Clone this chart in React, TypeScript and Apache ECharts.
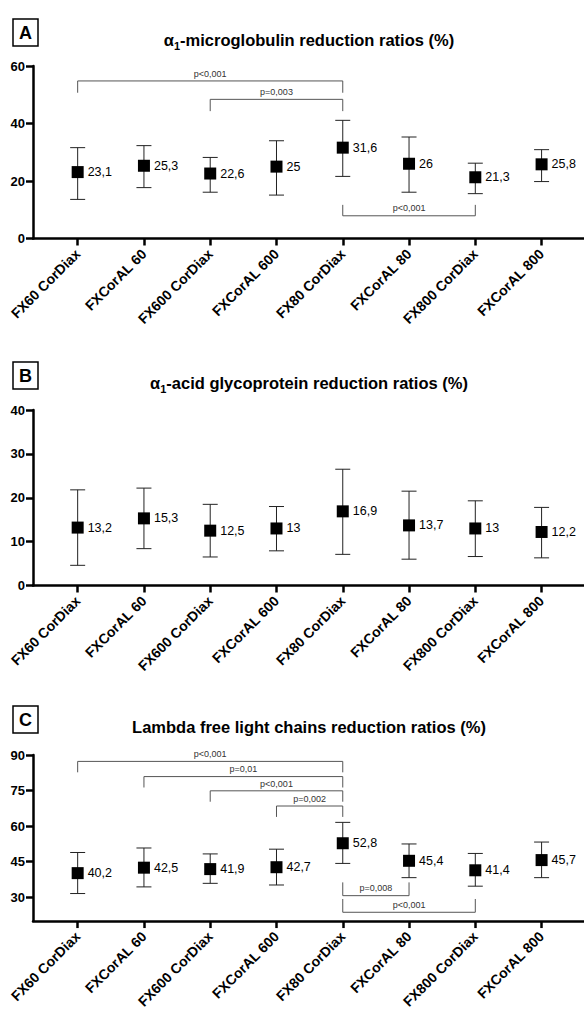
import React, { useEffect, useRef } from "react";
import * as echarts from "echarts";

const categories = [
  "FX60 CorDiax",
  "FXCorAL 60",
  "FX600 CorDiax",
  "FXCorAL 600",
  "FX80 CorDiax",
  "FXCorAL 80",
  "FX800 CorDiax",
  "FXCorAL 800",
];

// Panel A: alpha1-microglobulin
const meanA = [23.1, 25.3, 22.6, 25, 31.6, 26, 21.3, 25.8];
const upperA = [31.6, 32.3, 28.2, 34.0, 41.1, 35.3, 26.2, 30.9];
const lowerA = [13.6, 17.7, 16.1, 15.1, 21.6, 16.1, 15.6, 19.8];
const yTicksA = [0, 20, 40, 60];
// brackets: [from, to, lineValue, legEndValue]
const bracketsA = [
  [0, 4, 54.8, 50.7],
  [2, 4, 48.4, 44.3],
  [4, 6, 7.9, 11.7],
];
const bracketLabelsA = ["p<0,001", "p=0,003", "p<0,001"];

// Panel B: alpha1-acid glycoprotein
const meanB = [13.2, 15.3, 12.5, 13, 16.9, 13.7, 13, 12.2];
const upperB = [21.8, 22.2, 18.5, 18.0, 26.5, 21.5, 19.3, 17.8];
const lowerB = [4.6, 8.4, 6.5, 7.9, 7.1, 6.0, 6.6, 6.3];
const yTicksB = [0, 10, 20, 30, 40];
const bracketsB: number[][] = [];
const bracketLabelsB: string[] = [];

// Panel C: Lambda free light chains
const meanC = [40.2, 42.5, 41.9, 42.7, 52.8, 45.4, 41.4, 45.7];
const upperC = [48.9, 50.8, 48.3, 50.3, 61.6, 52.5, 48.5, 53.3];
const lowerC = [31.6, 34.4, 35.9, 35.2, 44.3, 38.3, 34.7, 38.3];
const yTicksC = [30, 45, 60, 75, 90];
const bracketsC = [
  [0, 4, 87.3, 82.7],
  [1, 4, 80.9, 76.3],
  [2, 4, 74.9, 70.3],
  [3, 4, 68.5, 63.9],
  [4, 5, 30.7, 36.3],
  [4, 6, 23.7, 29.3],
];
const bracketLabelsC = ["p<0,001", "p=0,01", "p<0,001", "p=0,002", "p=0,008", "p<0,001"];

const FONT = "'Liberation Sans', Arial, Helvetica, sans-serif";

const panels = [
  {
    letter: "A",
    titleMain: "-microglobulin reduction ratios (%)",
    greek: true,
    mean: meanA,
    upper: upperA,
    lower: lowerA,
    yTicks: yTicksA,
    yMin: 0,
    yMax: 60,
    brackets: bracketsA,
    bracketLabels: bracketLabelsA,
    top: 66,
    height: 172.5,
    titleY: 40,
    boxY: 19,
  },
  {
    letter: "B",
    titleMain: "-acid glycoprotein reduction ratios (%)",
    greek: true,
    mean: meanB,
    upper: upperB,
    lower: lowerB,
    yTicks: yTicksB,
    yMin: 0,
    yMax: 40,
    brackets: bracketsB,
    bracketLabels: bracketLabelsB,
    top: 410,
    height: 175.5,
    titleY: 383,
    boxY: 362,
  },
  {
    letter: "C",
    titleMain: "Lambda free light chains reduction ratios (%)",
    greek: false,
    mean: meanC,
    upper: upperC,
    lower: lowerC,
    yTicks: yTicksC,
    yMin: 20,
    yMax: 90,
    brackets: bracketsC,
    bracketLabels: bracketLabelsC,
    top: 755,
    height: 175,
    titleY: 727,
    boxY: 706,
  },
];

const fmt = (v: number) => String(v).replace(".", ",");

export default function App() {
  const ref = useRef<HTMLDivElement>(null);

  useEffect(() => {
    if (!ref.current) return;
    const chart = echarts.init(ref.current, null, { renderer: "svg" });

    const grid: any[] = [];
    const xAxis: any[] = [];
    const yAxis: any[] = [];
    const series: any[] = [];
    const graphic: any[] = [];
    const catIdx = categories.map((_, i) => i);

    panels.forEach((p, k) => {
      grid.push({ left: 33, right: 0, top: p.top, height: p.height, containLabel: false });
      xAxis.push({
        type: "value",
        gridIndex: k,
        min: -0.674,
        max: 7.64,
        splitLine: { show: false },
        axisLine: { show: true, onZero: false, lineStyle: { color: "#000", width: 2.5 } },
        axisTick: { show: true, customValues: catIdx, length: 7, lineStyle: { color: "#000", width: 2.5 } },
        axisLabel: {
          customValues: catIdx,
          formatter: (v: number) => categories[Math.round(v)] ?? "",
          rotate: 45,
          margin: 13,
          color: "#000",
          fontWeight: "bold",
          fontSize: 14,
          fontFamily: FONT,
        },
      });
      yAxis.push({
        type: "value",
        gridIndex: k,
        min: p.yMin,
        max: p.yMax,
        splitLine: { show: false },
        axisLine: { show: true, onZero: false, lineStyle: { color: "#000", width: 2.5 } },
        axisTick: { show: true, customValues: p.yTicks, length: 7, lineStyle: { color: "#000", width: 2.5 } },
        axisLabel: {
          customValues: p.yTicks,
          margin: 8,
          color: "#000",
          fontWeight: "bold",
          fontSize: 13,
          fontFamily: FONT,
        },
      });

      // error bars
      series.push({
        type: "custom",
        xAxisIndex: k,
        yAxisIndex: k,
        silent: true,
        data: catIdx.map((i) => [i, p.lower[i], p.upper[i]]),
        encode: { x: 0, y: [1, 2] },
        renderItem: (params: any, api: any) => {
          const x = api.value(0);
          const lo = api.coord([x, api.value(1)]);
          const hi = api.coord([x, api.value(2)]);
          const half = 7.5;
          const style = { stroke: "#222", lineWidth: 1, fill: "none" };
          return {
            type: "group",
            children: [
              { type: "line", shape: { x1: hi[0], y1: hi[1], x2: lo[0], y2: lo[1] }, style },
              { type: "line", shape: { x1: hi[0] - half, y1: hi[1], x2: hi[0] + half, y2: hi[1] }, style },
              { type: "line", shape: { x1: lo[0] - half, y1: lo[1], x2: lo[0] + half, y2: lo[1] }, style },
            ],
          };
        },
      });

      // markers
      series.push({
        type: "scatter",
        xAxisIndex: k,
        yAxisIndex: k,
        symbol: "rect",
        symbolSize: 12,
        itemStyle: { color: "#000", opacity: 1 },
        data: catIdx.map((i) => [i, p.mean[i]]),
        label: {
          show: true,
          position: "right",
          distance: 4,
          color: "#000",
          fontSize: 12.5,
          fontFamily: FONT,
          formatter: (d: any) => fmt(d.value[1]),
        },
        z: 5,
      });

      // significance brackets
      if (p.brackets.length) {
        const labels = p.bracketLabels;
        series.push({
          type: "custom",
          xAxisIndex: k,
          yAxisIndex: k,
          silent: true,
          data: p.brackets,
          encode: { x: [0, 1], y: [2, 3] },
          renderItem: (params: any, api: any) => {
            const a = api.coord([api.value(0), api.value(2)]);
            const b = api.coord([api.value(1), api.value(2)]);
            const aLeg = api.coord([api.value(0), api.value(3)]);
            const bLeg = api.coord([api.value(1), api.value(3)]);
            return {
              type: "group",
              children: [
                {
                  type: "polyline",
                  shape: { points: [[aLeg[0], aLeg[1]], [a[0], a[1]], [b[0], b[1]], [bLeg[0], bLeg[1]]] },
                  style: { stroke: "#555", lineWidth: 1, fill: "none" },
                },
                {
                  type: "text",
                  x: (a[0] + b[0]) / 2,
                  y: a[1] - 7.3,
                  style: {
                    text: labels[params.dataIndex],
                    align: "center",
                    verticalAlign: "middle",
                    fontSize: 9,
                    fontFamily: FONT,
                    fill: "#333",
                  },
                },
              ],
            };
          },
        });
      }

      // panel letter box
      graphic.push({
        type: "rect",
        shape: { x: 13, y: p.boxY, width: 25, height: 27 },
        style: { fill: "#fff", stroke: "#000", lineWidth: 1.5 },
      });
      graphic.push({
        type: "text",
        x: 25.5,
        y: p.boxY + 14,
        style: {
          text: p.letter,
          align: "center",
          verticalAlign: "middle",
          fontSize: 18,
          fontWeight: "bold",
          fontFamily: FONT,
          fill: "#000",
        },
      });
      // title
      const rich = {
        a: { fontSize: 16.5, fontWeight: "bold", fontFamily: FONT, fill: "#000", lineHeight: 22 },
        s: { fontSize: 11, fontWeight: "bold", fontFamily: FONT, fill: "#000", lineHeight: 12, verticalAlign: "bottom" },
      };
      graphic.push({
        type: "text",
        x: 309,
        y: p.titleY,
        style: {
          text: p.greek ? `{a|α}{s|1}{a|${p.titleMain}}` : `{a|${p.titleMain}}`,
          rich,
          align: "center",
          verticalAlign: "middle",
          fontSize: 16.5,
          fontWeight: "bold",
          fontFamily: FONT,
          fill: "#000",
        },
      });
    });

    chart.setOption({
      animation: false,
      backgroundColor: "#fff",
      grid,
      xAxis,
      yAxis,
      series,
      graphic,
    });

    return () => chart.dispose();
  }, []);

  return (
    <div
      ref={ref}
      style={{ position: "absolute", left: 0, top: 0, width: 584, height: 1011, background: "#fff" }}
    />
  );
}
